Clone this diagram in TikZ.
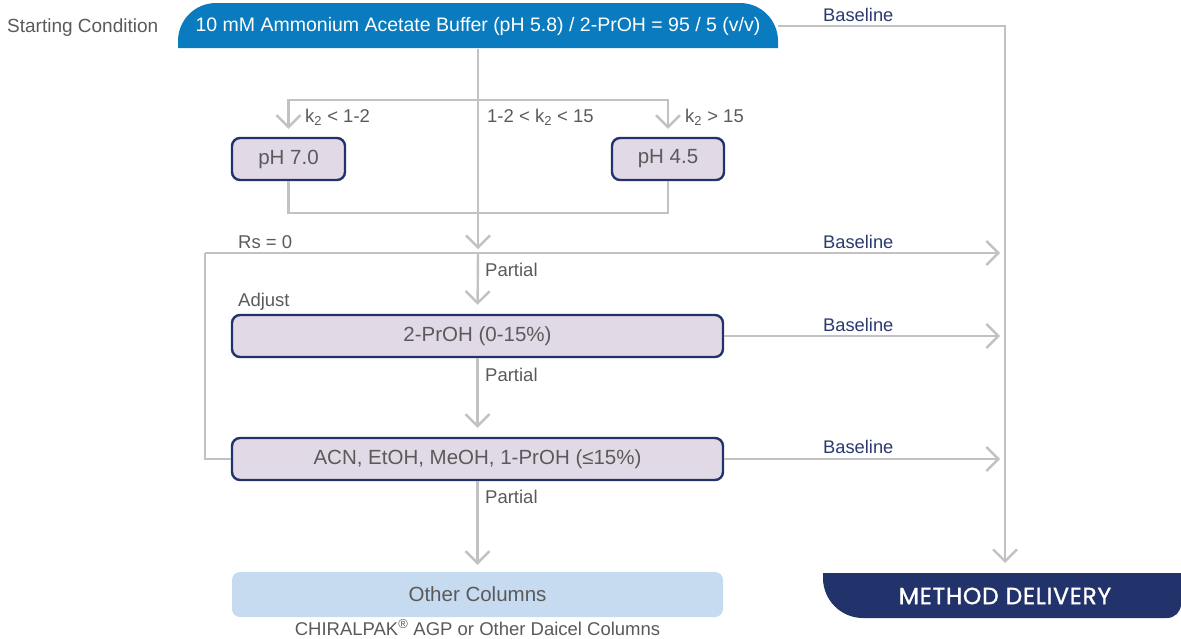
\documentclass[tikz,border=0pt]{standalone}
\usepackage{fontspec}
\setmainfont{Liberation Sans}
\newfontfamily\mdfont[LetterSpace=3,FakeBold=1.2]{Poppins}
\usetikzlibrary{arrows.meta}
\definecolor{topblue}{HTML}{0A7BBE}
\definecolor{linegray}{HTML}{C2C2C4}
\definecolor{boxfill}{HTML}{E1D9E6}
\definecolor{boxborder}{HTML}{22336B}
\definecolor{otherfill}{HTML}{C6DAF0}
\definecolor{mdnavy}{HTML}{22326A}
\definecolor{txtgray}{HTML}{5A5A5A}
\definecolor{labnavy}{HTML}{2A3A6E}
\tikzset{
  conn/.style={draw=linegray, line width=2.4pt},
  arr/.style={conn, -{Straight Barb[length=12pt,width=24pt,line width=2.4pt]}},
  phbox/.style={draw=boxborder, fill=boxfill, line width=2.4pt, rounded corners=8pt,
    minimum height=42pt, inner sep=0pt, text=txtgray, font=\fontsize{20.5}{22}\selectfont},
  otherbox/.style={fill=otherfill, rounded corners=8pt, minimum height=45pt,
    inner sep=0pt, text=txtgray, font=\fontsize{20.5}{22}\selectfont},
  lab/.style={text=txtgray, font=\fontsize{18.5}{20}\selectfont, inner sep=0pt},
  baselab/.style={text=labnavy, font=\fontsize{18.3}{20}\selectfont, inner sep=0pt, anchor=west},
}
\begin{document}
\begin{tikzpicture}[x=1pt,y=1pt]
\useasboundingbox (0,0) rectangle (1181,-638);
% top shape
\fill[topblue] (178,-48) -- (178,-41) arc[start angle=180,end angle=90,radius=38]
  -- (740,-3) arc[start angle=90,end angle=0,radius=38] -- (778,-48) -- cycle;
\node[minimum width=600pt, minimum height=45pt, inner sep=0pt, text=white,
  font=\fontsize{19.5}{21}\selectfont] (start) at (478,-26)
  {10 mM Ammonium Acetate Buffer (pH 5.8) / 2-PrOH = 95 / 5 (v/v)};
\node[lab, anchor=west, font=\fontsize{19}{21}\selectfont] (sc) at (7,-28) {Starting Condition};
% method delivery shape
\fill[mdnavy] (823,-573) -- (1181,-573) -- (1181,-604) arc[start angle=0,end angle=-90,radius=14]
  -- (863,-618) arc[start angle=270,end angle=180,radius=40] -- cycle;
\node[minimum width=358pt, minimum height=45pt, inner sep=0pt, text=white,
  font=\mdfont\fontsize{23.5}{26}\selectfont] (md) at (1005,-596) {METHOD DELIVERY};
% boxes
\node[phbox, minimum width=113pt] (ph7) at (288.5,-159) {pH 7.0};
\node[phbox, minimum width=112pt] (ph45) at (668,-159) {pH 4.5};
\node[phbox, minimum width=491pt] (prop) at (477.5,-336) {2-PrOH (0-15\%)};
\node[phbox, minimum width=491pt] (acn) at (477.5,-459) {ACN, EtOH, MeOH, 1-PrOH (≤15\%)};
\node[otherbox, minimum width=491pt] (other) at (477.5,-594.5) {Other Columns};
\node[lab] (chir) at (477.5,-627.5) {CHIRALPAK\textsuperscript{®} AGP or Other Daicel Columns};
% coordinates
\coordinate (mdin) at (1005,-563);
\coordinate (j1) at (478,-100);
\coordinate (j2) at (478,-213);
\coordinate (rs) at (478,-249);
\coordinate (j3) at (478,-253);
\coordinate (hl) at (205,-253);
\coordinate (hr) at (1000,-253);
\coordinate (pr) at (1000,-336);
\coordinate (ar) at (1000,-459);
% connectors
\draw[arr] (start.east) -| (mdin);
\draw[arr] (start.south) -- (rs);
\draw[arr, shorten >=8pt] (j1) -| (ph7.north);
\draw[arr, shorten >=8pt] (j1) -| (ph45.north);
\draw[conn] (ph7.south) |- (j2) -| (ph45.south);
\draw[arr] (hl) -- (hr);
\draw[conn] (hl) |- (acn.west);
\draw[arr, shorten >=9pt] (j3) -- (prop.north);
\draw[arr] (prop.east) -- (pr);
\draw[arr, shorten >=9pt] (prop.south) -- (acn.north);
\draw[arr] (acn.east) -- (ar);
\draw[arr, shorten >=7pt] (acn.south) -- (other.north);
% labels
\node[baselab] at (823,-15) {Baseline};
\node[baselab] at (823,-242) {Baseline};
\node[baselab] at (823,-325) {Baseline};
\node[baselab] at (823,-447) {Baseline};
\node[lab, anchor=west] at (305,-117) {k\textsubscript{2} < 1-2};
\node[lab, anchor=west] at (487,-117) {1-2 < k\textsubscript{2} < 15};
\node[lab, anchor=west] at (685,-117) {k\textsubscript{2} > 15};
\node[lab, anchor=west] at (238,-242) {Rs = 0};
\node[lab, anchor=west] at (238,-302) {Adjust};
\node[lab, anchor=west] at (485,-270) {Partial};
\node[lab, anchor=west] at (485,-375) {Partial};
\node[lab, anchor=west] at (485,-497) {Partial};
\end{tikzpicture}
\end{document}
